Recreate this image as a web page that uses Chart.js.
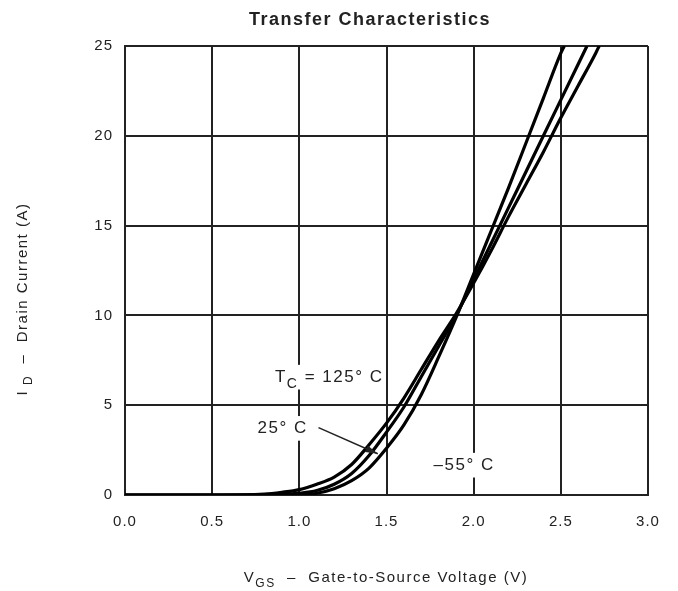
<!DOCTYPE html>
<html>
<head>
<meta charset="utf-8">
<script src="https://cdn.jsdelivr.net/npm/chart.js@4/dist/chart.umd.min.js"></script>
<style>
  html, body { margin: 0; padding: 0; background: #fff; }
  #wrap { width: 678px; height: 591px; }
</style>
</head>
<body>
<div id="wrap"><canvas id="transferChart"></canvas></div>
<script>
// Gate voltage samples (V) and drain current (A)
const vgs = [0.0, 0.5, 0.8, 0.9, 1.0, 1.1, 1.2, 1.3, 1.4, 1.5, 1.6, 1.7, 1.8, 1.9, 2.0, 2.1, 2.2, 2.3, 2.4, 2.5, 2.6, 2.7];
const id125 = [0, 0, 0.05, 0.15, 0.3, 0.6, 1.0, 1.7, 2.8, 4.0, 5.4, 7.0, 8.6, 10.1, 11.8, 13.6, 15.5, 17.3, 19.1, 21.0, 22.8, 24.6];
const id25  = [0, 0, 0, 0.03, 0.1, 0.25, 0.6, 1.2, 2.2, 3.5, 4.9, 6.6, 8.3, 10.0, 12.0, 14.0, 16.0, 18.0, 20.0, 22.0, 24.0, null];
const idM55 = [0, 0, 0, 0, 0.02, 0.1, 0.35, 0.8, 1.5, 2.6, 3.9, 5.6, 7.7, 9.9, 12.3, 14.7, 17.1, 19.6, 22.1, 24.6, null, null];
// end points where each curve leaves the top of the plot
const topExit = { c125: [2.72, 25], c25: [2.65, 25], cM55: [2.52, 25] };

const xTicks = [0.0, 0.5, 1.0, 1.5, 2.0, 2.5, 3.0];
const yTicks = [0, 5, 10, 15, 20, 25];

function toPoints(xs, ys, exit) {
    const pts = [];
    xs.forEach((x, i) => { if (ys[i] !== null) pts.push({ x: x, y: ys[i] }); });
    pts.push({ x: exit[0], y: exit[1] });
    return pts;
}

const FONT = "'Liberation Sans', Arial, sans-serif";
const INK = '#222';

function curve(label, data) {
    return {
        label: label,
        data: data,
        showLine: true,
        borderColor: '#000',
        borderWidth: 3.2,
        pointRadius: 0,
        cubicInterpolationMode: 'monotone',
        fill: false
    };
}

// wide tracking like the scanned datasheet lettering
const spacingPlugin = {
    id: 'spacingPlugin',
    beforeLayout(chart) { chart.ctx.letterSpacing = '1px'; },
    beforeDraw(chart) { chart.ctx.letterSpacing = '1px'; }
};

// Title, axis labels with subscripts, and in-plot annotations
const textPlugin = {
    id: 'textPlugin',
    afterDatasetsDraw(chart) {
        const ctx = chart.ctx;
        const xs = chart.scales.x, ys = chart.scales.y;
        const px = v => xs.getPixelForValue(v);
        const py = v => ys.getPixelForValue(v);
        ctx.save();
        ctx.fillStyle = INK;
        ctx.textBaseline = 'alphabetic';
        ctx.letterSpacing = '1.5px';

        // runs of [text, isSubscript]
        function runs(parts, x, y, size) {
            let cx = x;
            parts.forEach(p => {
                const sub = p[1];
                ctx.font = (sub ? Math.round(size * 0.8) : size) + 'px ' + FONT;
                ctx.fillText(p[0], cx, sub ? y + size * 0.35 : y);
                cx += ctx.measureText(p[0]).width;
            });
            return cx - x;
        }
        function measure(parts, size) {
            let w = 0;
            parts.forEach(p => {
                ctx.font = (p[1] ? Math.round(size * 0.8) : size) + 'px ' + FONT;
                w += ctx.measureText(p[0]).width;
            });
            return w;
        }
        function label(parts, x, y, size) {
            const w = measure(parts, size);
            ctx.fillStyle = '#fff';
            ctx.fillRect(x - 2, y - size, w + 4, size * 1.45);
            ctx.fillStyle = INK;
            runs(parts, x, y, size);
        }

        // title
        ctx.font = 'bold 18px ' + FONT;
        ctx.textAlign = 'center';
        ctx.fillText('Transfer Characteristics', 370, 25);
        ctx.textAlign = 'left';

        // x axis title
        const xParts = [['V', false], ['GS', true], ['  \u2013  Gate-to-Source Voltage (V)', false]];
        const xw = measure(xParts, 15);
        runs(xParts, 386 - xw / 2, 582, 15);

        // y axis title
        const yParts = [['I', false], [' D', true], ['  \u2013  Drain Current (A)', false]];
        const yw = measure(yParts, 15);
        ctx.translate(27, 299);
        ctx.rotate(-Math.PI / 2);
        runs(yParts, -yw / 2, 0, 15);
        ctx.setTransform(chart.currentDevicePixelRatio, 0, 0, chart.currentDevicePixelRatio, 0, 0);

        // annotations
        label([['T', false], ['C', true], [' = 125\u00b0 C', false]], px(0.86), py(6.3), 17);
        label([['25\u00b0 C', false]], px(0.76), py(3.45), 17);
        label([['\u201355\u00b0 C', false]], px(1.77), py(1.4), 17);

        // arrow to the 25 C curve
        const ax0 = px(1.11), ay0 = py(3.75), ax1 = px(1.45), ay1 = py(2.3);
        ctx.strokeStyle = INK;
        ctx.lineWidth = 1.5;
        ctx.beginPath();
        ctx.moveTo(ax0, ay0);
        ctx.lineTo(ax1, ay1);
        ctx.stroke();
        const ang = Math.atan2(ay1 - ay0, ax1 - ax0);
        ctx.beginPath();
        ctx.moveTo(ax1, ay1);
        ctx.lineTo(ax1 - 13 * Math.cos(ang - 0.28), ay1 - 13 * Math.sin(ang - 0.28));
        ctx.lineTo(ax1 - 13 * Math.cos(ang + 0.28), ay1 - 13 * Math.sin(ang + 0.28));
        ctx.closePath();
        ctx.fill();
        ctx.restore();
    }
};

const ctx1 = document.getElementById('transferChart').getContext('2d');
new Chart(ctx1, {
    type: 'scatter',
    data: {
        datasets: [
            curve('TC = 125\u00b0C', toPoints(vgs, id125, topExit.c125)),
            curve('25\u00b0C', toPoints(vgs, id25, topExit.c25)),
            curve('-55\u00b0C', toPoints(vgs, idM55, topExit.cM55))
        ]
    },
    options: {
        responsive: true,
        maintainAspectRatio: false,
        animation: false,
        clip: true,
        layout: { padding: { top: 46, right: 30, left: 0, bottom: 0 } },
        plugins: {
            legend: { display: false },
            title: { display: false },
            tooltip: { enabled: false }
        },
        scales: {
            x: {
                type: 'linear',
                min: 0,
                max: 3,
                afterBuildTicks: s => { s.ticks = xTicks.map(v => ({ value: v })); },
                afterFit: s => { s.height = 96; },
                grid: { color: INK, lineWidth: 2, drawTicks: false },
                border: { color: INK, width: 2 },
                ticks: {
                    padding: 18,
                    color: INK,
                    font: { family: FONT, size: 15 },
                    callback: v => Number(v).toFixed(1)
                }
            },
            y: {
                type: 'linear',
                min: 0,
                max: 25,
                afterBuildTicks: s => { s.ticks = yTicks.map(v => ({ value: v })); },
                afterFit: s => { s.width = 125; },
                grid: { color: INK, lineWidth: 2, drawTicks: false },
                border: { color: INK, width: 2 },
                ticks: {
                    padding: 12,
                    color: INK,
                    font: { family: FONT, size: 15 }
                }
            }
        }
    },
    plugins: [spacingPlugin, textPlugin]
});
</script>
</body>
</html>
